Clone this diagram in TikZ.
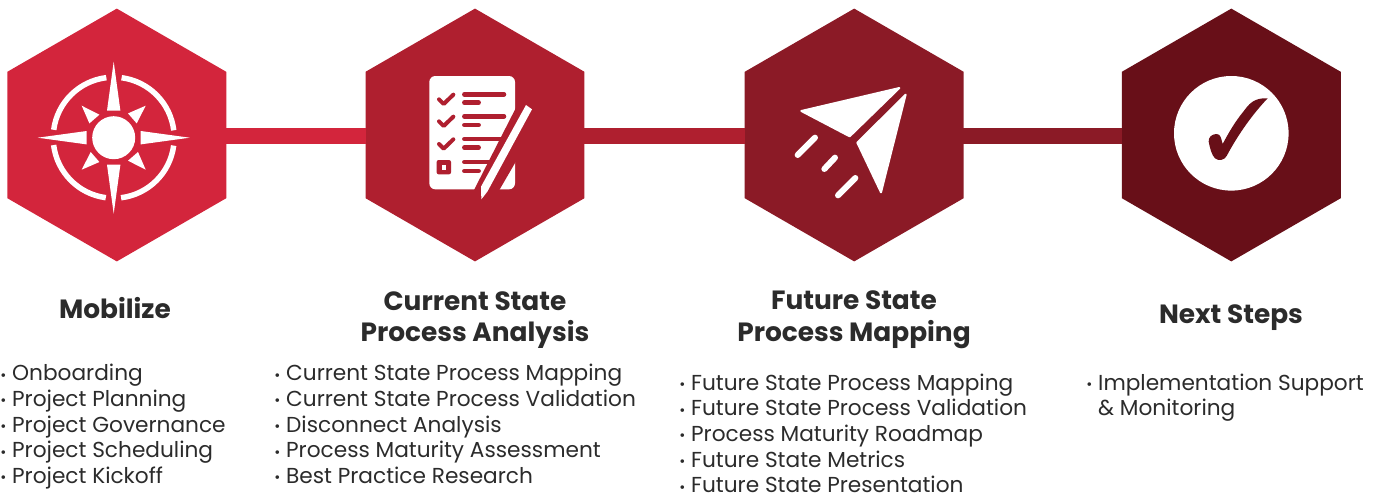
\documentclass[tikz,border=0pt]{standalone}
\usepackage{fontspec}
\setmainfont{Poppins}
\usepackage{xcolor}
\usetikzlibrary{shapes.geometric, positioning, calc}

\definecolor{stepa}{HTML}{D3253C}
\definecolor{stepb}{HTML}{AF1F2F}
\definecolor{stepc}{HTML}{8B1A26}
\definecolor{stepd}{HTML}{680F18}
\definecolor{inktext}{HTML}{2B2B2B}

\tikzset{
  hexnode/.style={regular polygon, regular polygon sides=6, shape border rotate=30, minimum size=189.6pt, inner sep=0pt, fill=#1},
  barline/.style={line width=12pt, draw=#1, shorten <=-0.8pt, shorten >=-0.4pt},
  titlenode/.style={align=center, text=inktext, font=\fontsize{19.8}{23.8}\selectfont\bfseries},
  listnode/.style={align=left, anchor=north west, inner sep=0pt, text=inktext, font=\fontsize{16.25}{19.25}\selectfont},
  iconline/.style={line width=4.5pt, line cap=round, line join=round},
}

\newcommand{\bul}{{\fontsize{11}{11}\selectfont\raisebox{0.5pt}{•}}\hspace{4.4pt}}

\begin{document}
\begin{tikzpicture}[x=0.75pt, y=-0.75pt]
      \useasboundingbox (0,0) rectangle (1386,493);

      \node[hexnode=stepa] (hexa) at (116.8,135) {};
      \node[hexnode=stepb] (hexb) at (475,135) {};
      \node[hexnode=stepc] (hexc) at (854.2,135) {};
      \node[hexnode=stepd] (hexd) at (1231.3,135) {};

      % connectors sit a pixel under the centre line
      \draw[barline=stepa] ([yshift=-0.75pt]hexa.east) -- ([yshift=-0.75pt]hexb.west);
      \draw[barline=stepb] ([yshift=-0.75pt]hexb.east) -- ([yshift=-0.75pt]hexc.west);
      \draw[barline=stepc] ([yshift=-0.75pt]hexc.east) -- ([yshift=-0.75pt]hexd.west);

      % compass
      \begin{scope}[shift={(113.7,137.7)}]
        \fill[white] (0,0) circle (21.5);
        \foreach \a in {0,90,180,270} {
          \draw[white, line width=4.1pt] (\a+7.5:60.5) arc[start angle=\a+7.5, end angle=\a+83, radius=60.5];
          \fill[white, rotate=\a] (76,0) -- (27,-6.7) -- (27,6.7) -- cycle;
          \fill[white, rotate=\a] (32,-32) -- (14.3,-24.3) -- (23,-14.3) -- cycle;
        }
      \end{scope}

      % checklist
      \begin{scope}[shift={(400,60)}, x=0.25pt, y=-0.25pt]
        \fill[white, rounded corners=4.5pt] (88,48) rectangle (345,388);
        \foreach \yy in {0,66,134} {
          \draw[stepb, line width=3pt, line join=round, line cap=round] (117,118+\yy) -- (131,132+\yy) -- (160,104+\yy);
        }
        \foreach \yy in {103,169,237,306} {
          \draw[stepb, line width=3.4pt, line cap=round] (193,\yy) -- (312,\yy);
        }
        \foreach \yy in {128,195,263,333} {
          \draw[stepb, line width=3.4pt, line cap=round] (193,\yy) -- (236,\yy);
        }
        \fill[stepb, rounded corners=1.5pt] (110,300) rectangle (153,343);
        \fill[white] (125,316) rectangle (138,329);
        % gap round the pen
        \fill[stepb] (375,90) -- (420,180) -- (298,390) -- (222,390) -- cycle;
        \fill[white, line join=round] (378,135) -- (396,148) -- (262,395) -- (244,418) -- (243,380) -- cycle;
      \end{scope}

      % paper plane
      \begin{scope}[shift={(780,70)}, x=0.25pt, y=-0.25pt]
        \filldraw[white, line width=1.5pt, line join=round] (358,54) -- (64,123) -- (209,199) -- cycle;
        \filldraw[white, line width=1.5pt, line join=round] (377,74) -- (232,218) -- (303,367) -- cycle;
        \draw[white, iconline] (105,203) -- (53,255);
        \draw[white, iconline] (165,263) -- (133,297);
        \draw[white, iconline] (226,324) -- (174,376);
      \end{scope}

      % check mark
      \fill[white] (1231.3,133.3) circle (57.3);
      \begin{scope}[shift={(1160,70)}, x=0.25pt, y=-0.25pt]
        \fill[stepd] (323,85) .. controls (280,82) and (265,105) .. (250,125)
          .. controls (225,155) and (205,190) .. (188,222)
          .. controls (183,205) and (182,192) .. (170,192)
          .. controls (155,192) and (145,202) .. (146,215)
          .. controls (150,235) and (155,255) .. (165,265)
          .. controls (175,273) and (192,272) .. (200,258)
          .. controls (225,210) and (270,140) .. (323,85) -- cycle;
      \end{scope}

      % headings
      \node[titlenode] (titlea) at (115,308) {Mobilize};
      \node[titlenode] (titleb) at (475,320) {Current State\\Process Analysis};
      \node[titlenode] (titlec) at (854,320) {Future State\\Process Mapping};
      \node[titlenode] (titled) at (1231,318) {Next Steps};

      % bullet lists
      \node[listnode] (lista) at (0,364) {\bul Onboarding\\\bul Project Planning\\\bul Project Governance\\\bul Project Scheduling\\\bul Project Kickoff};
      \node[listnode] (listb) at (274,364) {\bul Current State Process Mapping\\\bul Current State Process Validation\\\bul Disconnect Analysis\\\bul Process Maturity Assessment\\\bul Best Practice Research};
      \node[listnode] (listc) at (679,373.5) {\bul Future State Process Mapping\\\bul Future State Process Validation\\\bul Process Maturity Roadmap\\\bul Future State Metrics\\\bul Future State Presentation};
      \node[listnode] (listd) at (1086,373.5) {\bul Implementation Support\\\phantom{\bul}\& Monitoring};

    \end{tikzpicture}
\end{document}
